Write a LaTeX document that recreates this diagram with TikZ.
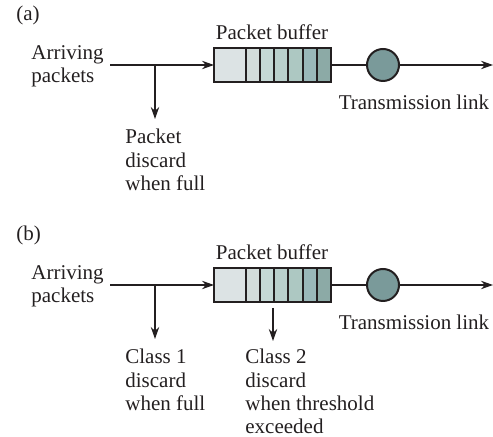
\documentclass[tikz,border=0pt]{standalone}
\usepackage{fontspec}
\setmainfont{Liberation Serif}
\usetikzlibrary{arrows.meta}
\definecolor{cellA}{HTML}{DCE3E4}
\definecolor{cellB}{HTML}{D2DCDA}
\definecolor{cellC}{HTML}{C5D9D6}
\definecolor{cellD}{HTML}{BAD0CC}
\definecolor{cellE}{HTML}{ADC8C2}
\definecolor{cellF}{HTML}{9AB8B9}
\definecolor{cellG}{HTML}{8CAAA6}
\definecolor{server}{HTML}{7A9A9A}
\definecolor{ink}{HTML}{231F20}
\begin{document}
\begin{tikzpicture}[x=0.5pt,y=-0.5pt,
  lbl/.style={font=\fontsize{10.5}{11.6}\selectfont,inner sep=0pt,align=left,text=ink},
  link/.style={line width=0.75pt,draw=ink},
  flow/.style={line width=0.75pt,draw=ink,-{Stealth[length=6pt,width=4.2pt]}},
  cell/.style={draw=ink,line width=1pt},
  srvnode/.style={circle,draw=ink,fill=server,line width=1pt,minimum size=16pt,inner sep=0pt}]
\useasboundingbox (0,0) rectangle (493,437);
% both panels share the queue
\foreach \p/\dy in {a/0,b/220}{
  \begin{scope}[shift={(0,\dy)}]
    \node[lbl,anchor=west] (tag\p) at (16,15) {(\p)};
    \node[lbl,anchor=west] (arr\p) at (31,66) {Arriving\\packets};
    \node[lbl] (buflbl\p) at (272,32) {Packet buffer};
    \foreach \xa/\xb/\c in {214/246/cellA,246/260/cellB,260/274/cellC,274/288/cellD,288/303/cellE,303/317/cellF,317/331/cellG}
      \draw[cell,fill=\c] (\xa,48) rectangle (\xb,82);
    \coordinate (bufin\p) at (214,65);
    \coordinate (bufout\p) at (331,65);
    \coordinate (src\p) at (110,65);
    \coordinate (out\p) at (493,65);
    \coordinate (drop\p) at (155,65);
    \coordinate (dropend\p) at (155,119);
    \node[srvnode] (srv\p) at (383,65) {};
    \node[lbl] (tx\p) at (414,102) {Transmission link};
    \draw[flow] (src\p) -- (bufin\p);
    \draw[link] (bufout\p) -- (srv\p);
    \draw[flow] (srv\p) -- (out\p);
    \draw[flow] (drop\p) -- (dropend\p);
  \end{scope}
}
\node[lbl,anchor=north west] (notea) at (125,129) {Packet\\discard\\when full};
\node[lbl,anchor=north west] (noteb) at (125,349) {Class 1\\discard\\when full};
\node[lbl,anchor=north west] (notec) at (245,349) {Class 2\\discard\\when threshold\\exceeded};
\coordinate (thr) at (273,308);
\coordinate (thrend) at (273,341);
\draw[flow] (thr) -- (thrend);
\end{tikzpicture}
\end{document}
